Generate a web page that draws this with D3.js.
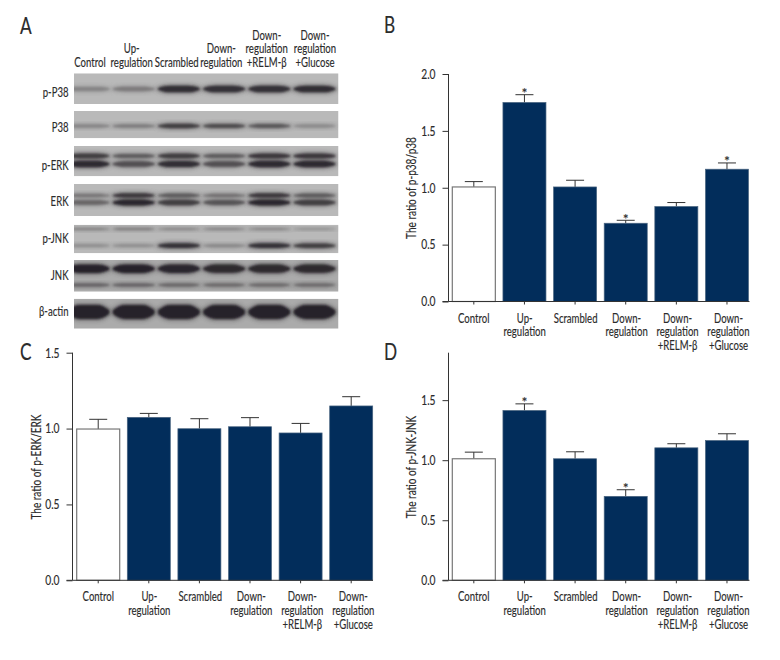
<!DOCTYPE html>
<html><head><meta charset="utf-8">
<script src="https://cdnjs.cloudflare.com/ajax/libs/d3/7.8.5/d3.min.js"></script>
<style>html,body{margin:0;background:#fff}svg{display:block}text{font-family:"Lato",sans-serif;fill:#2b2b2b;stroke:#2b2b2b;stroke-width:.15px}</style>
</head><body><svg id="c" width="780" height="660"></svg>
<script>
const groups = ["Control","Up-regulation","Scrambled","Down-regulation","Down-regulation +RELM-β","Down-regulation +Glucose"];
const groupLines = [["Control"],["Up-","regulation"],["Scrambled"],["Down-","regulation"],["Down-","regulation","+RELM-β"],["Down-","regulation","+Glucose"]];
const ratioPP38 = [1.007,1.75,1.007,0.688,0.835,1.163];
const errPP38   = [1.054,1.818,1.066,0.714,0.87,1.218];
const sigPP38   = [0,1,0,1,0,1];
const ratioPERK = [0.997,1.074,0.999,1.012,0.971,1.149];
const errPERK   = [1.061,1.1,1.065,1.072,1.034,1.21];
const sigPERK   = [0,0,0,0,0,0];
const ratioPJNK = [1.012,1.414,1.012,0.699,1.103,1.164];
const errPJNK   = [1.067,1.469,1.07,0.754,1.137,1.22];
const sigPJNK   = [0,1,0,1,0,0];
const yTicks = [0,0.5,1,1.5,2];

const blotNames = ["p-P38","P38","p-ERK","ERK","p-JNK","JNK","β-actin"];
const blotUpper = [
  [0.28,0.34,0.92,0.9,0.9,0.92],
  [0.28,0.36,0.8,0.7,0.62,0.24],
  [0.8,0.58,0.8,0.58,0.85,0.85],
  [0.38,0.85,0.58,0.42,0.85,0.58],
  [0.3,0.34,0.26,0.28,0.26,0.16],
  [1,1,0.98,0.96,0.96,0.96],
  [1,1,1,1,1,1]];
const blotLower = [
  null,null,
  [0.95,0.68,0.92,0.68,0.95,0.95],
  [0.52,0.97,0.8,0.65,0.97,0.8],
  [0.2,0.2,0.9,0.25,0.9,0.8],
  [0.55,0.55,0.52,0.5,0.5,0.5],
  null];

const narrow = 0.76;
const fontPx = 12.6;
const svg = d3.select("#c");
const defs = svg.append("defs");
[["soft",0.9],["halo",2.2]].forEach(([id,s])=>{
  defs.append("filter").attr("id",id).attr("x","-15%").attr("y","-100%").attr("width","130%").attr("height","300%")
    .append("feGaussianBlur").attr("stdDeviation",s);
});

function label(g,x,y,str,o={}){
  return g.append("text")
    .attr("transform",`translate(${x},${y})${o.rot?` rotate(${o.rot})`:""} scale(${o.sx||narrow},1)`)
    .attr("text-anchor",o.anchor||"middle")
    .attr("font-size",o.size||fontPx).text(str);
}

// Panel letters
[["A",20,34],["B",384,33],["C",20,360],["D",384,360]].forEach(([t,x,y])=>{
  label(svg,x,y,t,{anchor:"start",size:24,sx:0.72});
});

// Panel A: blot
const blotX = [74,338.5];
const lane = d3.scaleBand().domain(groups).range([67.7,335.3]).paddingInner(0.08);
const rowTop = [73.3,111,146,184,224.7,260,298.7];
const rowBottom = [104,138.3,176.3,216,253.3,291.7,328.7];
const upperY = [89,126,156,195.5,229,268.7,312];
const lowerY = [null,null,164,202.5,245.7,285,null];
const upperH = [7,5,5.5,5,3.5,8.5,14];
const lowerH = [0,0,6.5,6,5,4,0];
const labelY = [92,127,165.5,201,238,275,311.7];
const shade = d3.scaleLinear().domain([0,0.5,1]).range(["#a8a8a8","#6a6869","#28242a"]);
const profile = [0.25,0.8,1,1,1,1,0.8,0.25];

const gA = svg.append("g");
blotNames.forEach((name,r)=>{
  const clipId = "row"+r;
  defs.append("clipPath").attr("id",clipId).append("rect")
    .attr("x",blotX[0]).attr("y",rowTop[r]).attr("width",blotX[1]-blotX[0]).attr("height",rowBottom[r]-rowTop[r]);
  const row = gA.append("g").attr("clip-path",`url(#${clipId})`);
  row.append("rect").attr("x",blotX[0]).attr("y",rowTop[r]).attr("width",blotX[1]-blotX[0])
    .attr("height",rowBottom[r]-rowTop[r]).attr("fill",r>=5?"#ababab":"#b9b9b9");
  const draw=(vals,cy,h)=>{
    groups.forEach((g,i)=>{
      const v = vals[i], half = h*(0.45+0.55*v)/2;
      const px = d3.scaleLinear().domain([0,profile.length-1]).range([lane(g),lane(g)+lane.bandwidth()]);
      const shape = d3.area().x((d,k)=>px(k)).y0(d=>cy-half*d).y1(d=>cy+half*d).curve(d3.curveMonotoneX);
      row.append("path").attr("d",shape(profile)).attr("fill",shade(v*0.8)).attr("opacity",0.55)
        .attr("stroke",shade(v*0.8)).attr("stroke-width",3).attr("filter","url(#halo)");
      row.append("path").attr("d",shape(profile)).attr("fill",shade(v)).attr("filter","url(#soft)");
    });
  };
  draw(blotUpper[r],upperY[r],upperH[r]);
  if(blotLower[r]) draw(blotLower[r],lowerY[r],lowerH[r]);
  label(gA,68.5,labelY[r]+4.5,name,{anchor:"end"});
});
const headX = [90,131.7,176.7,221.3,266.7,315];
groupLines.forEach((lines,i)=>{
  lines.forEach((ln,j)=>{
    label(gA,headX[i],67-(lines.length-1-j)*13.7,ln);
  });
});

// Bar panels
function panel(o){
  const g = svg.append("g");
  const y = d3.scaleLinear().domain(o.yDomain).range([o.y0,o.yTop]);
  const x = d3.scaleBand().domain(groups).range(o.xRange).paddingInner(0.15).paddingOuter(0.0);
  const labelScale = d3.scalePoint().domain(groups).range(o.labelRange);
  g.selectAll("line.err").data(groups).join("line")
    .attr("x1",d=>x(d)+x.bandwidth()/2).attr("x2",d=>x(d)+x.bandwidth()/2)
    .attr("y1",(d,i)=>y(o.values[i])).attr("y2",(d,i)=>y(o.errs[i])).attr("stroke","#333").attr("stroke-width",1);
  g.selectAll("line.cap").data(groups).join("line")
    .attr("x1",d=>x(d)+x.bandwidth()/2-9).attr("x2",d=>x(d)+x.bandwidth()/2+9)
    .attr("y1",(d,i)=>y(o.errs[i])).attr("y2",(d,i)=>y(o.errs[i])).attr("stroke","#333").attr("stroke-width",1);
  g.selectAll("rect.bar").data(groups).join("rect")
    .attr("x",d=>x(d)).attr("width",x.bandwidth())
    .attr("y",(d,i)=>y(o.values[i])).attr("height",(d,i)=>o.y0-y(o.values[i]))
    .attr("fill",(d,i)=>i===0?"#fff":"#022d5b")
    .attr("stroke",(d,i)=>i===0?"#777":"#4a6580")
    .attr("stroke-width",(d,i)=>i===0?1.2:0.7);
  const ay = g.append("g").attr("transform",`translate(${o.axisX},0)`)
    .call(d3.axisLeft(y).tickValues(yTicks.filter(t=>t<=o.yDomain[1])).tickSize(6).tickFormat(d3.format(".1f")));
  ay.selectAll("text").attr("font-size",13.5).attr("transform",`scale(${narrow},1)`).attr("x",-13/narrow).attr("fill","#2b2b2b").style("font-family",'"Lato"');
  ay.selectAll("line").attr("stroke","#333");
  ay.select(".domain").attr("stroke","#333").attr("d",`M-6,${o.y0}H0V${o.yTop}`);
  const ax = g.append("g").attr("transform",`translate(0,${o.y0})`)
    .call(d3.axisBottom(x).tickSize(3).tickFormat(""));
  ax.selectAll("line").attr("stroke","#333");
  ax.select(".domain").attr("stroke","#333").attr("d",`M${o.axisX},0H${o.xEnd}`);
  groups.forEach((d,i)=>{
    groupLines[i].forEach((ln,j)=>label(g,labelScale(d),o.y0+21+j*13.6,ln));
  });
  groups.forEach((d,i)=>{
    if(o.sig[i]) g.append("text").attr("x",x(d)+x.bandwidth()/2).attr("y",y(o.errs[i])+3.5)
      .attr("text-anchor","middle").attr("font-size",14).text("*");
  });
  label(g,o.titleX,o.titleY,o.title,{rot:-90,size:13.2});
}
panel({values:ratioPP38,errs:errPP38,sig:sigPP38,yDomain:[0,2],y0:301.5,yTop:74,axisX:448.5,xEnd:749.5,
  xRange:[452.3,748.5],labelRange:[473.7,728.5],title:"The ratio of p-p38/p38",titleX:416,titleY:188});
panel({values:ratioPERK,errs:errPERK,sig:sigPERK,yDomain:[0,1.5],y0:580.3,yTop:352.7,axisX:72.5,xEnd:373,
  xRange:[76.7,372.7],labelRange:[98.3,353.3],title:"The ratio of p-ERK/ERK",titleX:41,titleY:467});
panel({values:ratioPJNK,errs:errPJNK,sig:sigPJNK,yDomain:[0,1.895],y0:580.3,yTop:352.7,axisX:448.5,xEnd:749.5,
  xRange:[452.3,748.5],labelRange:[473.7,728.5],title:"The ratio of p-JNK-JNK",titleX:416,titleY:467});
</script></body></html>
